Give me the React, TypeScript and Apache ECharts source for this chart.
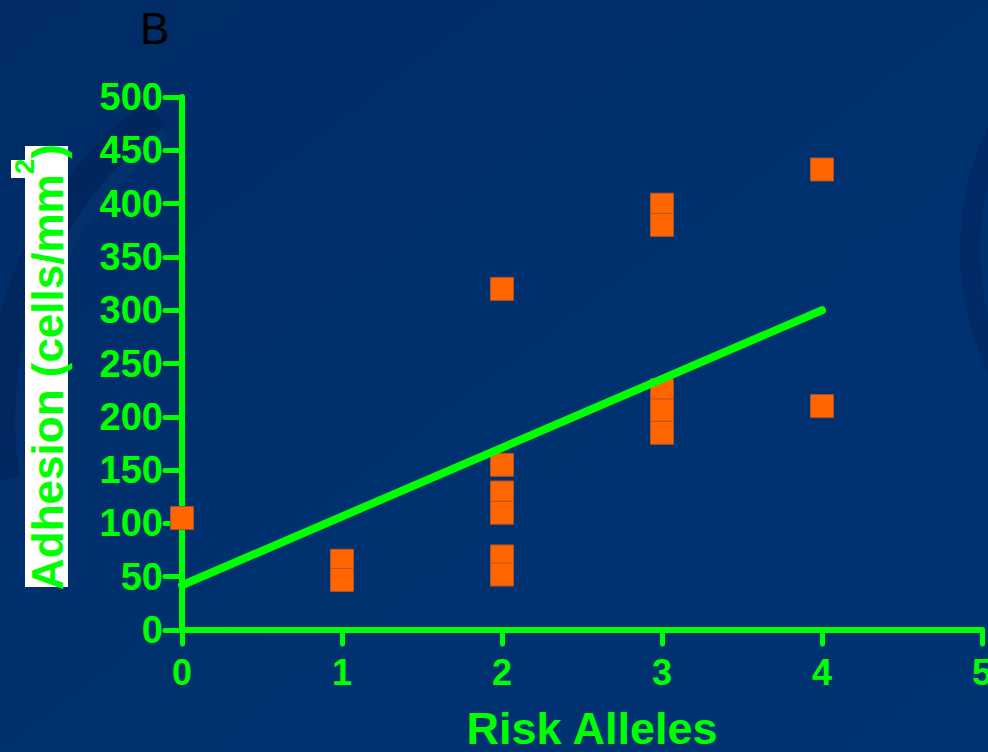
import React, { useEffect, useRef } from "react";
import * as echarts from "echarts";

const xTicks = [0, 1, 2, 3, 4, 5];
const yTicks = [0, 50, 100, 150, 200, 250, 300, 350, 400, 450, 500];
const riskAlleles = [0, 1, 1, 2, 2, 2, 2, 2, 2, 3, 3, 3, 3, 3, 4, 4];
const adhesion = [105, 65, 47, 320, 155, 129, 110, 69, 52, 399, 380, 225, 206, 185, 432, 210];
const fitX = [0, 4];
const fitY = [42, 300];

const GREEN = "#00ff00";
const FONT = "'Liberation Sans', Arial, sans-serif";

export default function App() {
  const ref = useRef<HTMLDivElement>(null);
  useEffect(() => {
    document.body.style.margin = "0";
    const chart = echarts.init(ref.current!, null, { renderer: "svg" });
    const points = riskAlleles.map((x, i) => [x, adhesion[i]]);
    const fit = fitX.map((x, i) => [x, fitY[i]]);
    chart.setOption({
      animation: false,
      backgroundColor: "#00306c",
      graphic: [
        {
          type: "rect",
          z: -10,
          silent: true,
          shape: { x: 0, y: 0, width: 988, height: 752 },
          style: {
            fill: new echarts.graphic.LinearGradient(0, 0, 1, 1, [
              { offset: 0, color: "#002b66" },
              { offset: 0.5, color: "#00316f" },
              { offset: 1, color: "#003373" },
            ]),
          },
        },
        {
          type: "arc",
          z: -9,
          silent: true,
          shape: { cx: 380, cy: 420, r: 380, startAngle: Math.PI * 0.95, endAngle: Math.PI * 1.3 },
          style: { stroke: "rgba(0,20,60,0.25)", lineWidth: 30, fill: "none" },
        },
        {
          type: "arc",
          z: -9,
          silent: true,
          shape: { cx: 360, cy: 400, r: 330, startAngle: Math.PI * 1.0, endAngle: Math.PI * 1.3 },
          style: { stroke: "rgba(40,80,140,0.10)", lineWidth: 12, fill: "none" },
        },
        {
          type: "arc",
          z: -9,
          silent: true,
          shape: { cx: 1250, cy: 250, r: 280, startAngle: Math.PI * 0.85, endAngle: Math.PI * 1.15 },
          style: { stroke: "rgba(0,20,70,0.22)", lineWidth: 20, fill: "none" },
        },
        {
          type: "text",
          left: 140,
          top: 6,
          style: { text: "B", fill: "#000", font: `normal 44px ${FONT}` },
        },
        {
          type: "rect",
          z: 5,
          shape: { x: 25, y: 146, width: 43, height: 441 },
          style: { fill: "#ffffff" },
        },
        {
          type: "rect",
          z: 5,
          shape: { x: 11, y: 160, width: 15, height: 18 },
          style: { fill: "#ffffff" },
        },
        {
          type: "text",
          z: 6,
          x: 39,
          y: 367,
          rotation: Math.PI / 2,
          style: {
            text: "{a|Adhesion (cells/mm}{s|2}{a|)}",
            align: "center",
            verticalAlign: "middle",
            rich: {
              a: { fontSize: 44, fontWeight: "bold", fontFamily: FONT, fill: GREEN, color: GREEN, lineHeight: 44, height: 44, verticalAlign: "bottom" },
              s: { fontSize: 28, fontWeight: "bold", fontFamily: FONT, fill: GREEN, color: GREEN, lineHeight: 60, height: 30, verticalAlign: "top" },
            },
          },
        },
        {
          type: "text",
          z: 6,
          x: 592,
          y: 728,
          style: {
            text: "Risk Alleles",
            align: "center",
            verticalAlign: "middle",
            fill: GREEN,
            font: `bold 45px ${FONT}`,
          },
        },
      ],
      grid: { left: 182, width: 800, top: 97, height: 533, containLabel: false, outerBoundsMode: "none" },
      xAxis: {
        type: "value",
        min: xTicks[0],
        max: xTicks[xTicks.length - 1],
        interval: 1,
        splitLine: { show: false },
        axisLine: { show: true, onZero: false, lineStyle: { color: GREEN, width: 6, cap: "round" } },
        axisTick: { show: true, length: 14, lineStyle: { color: GREEN, width: 5, cap: "round" } },
        axisLabel: {
          color: GREEN,
          fontSize: 36,
          fontWeight: "bold",
          fontFamily: FONT,
          margin: 24,
          showMaxLabel: true,
          hideOverlap: false,
          formatter: (v: number) => (xTicks.includes(v) ? String(v) : ""),
        },
      },
      yAxis: {
        type: "value",
        min: yTicks[0],
        max: yTicks[yTicks.length - 1],
        interval: 50,
        splitLine: { show: false },
        axisLine: { show: true, onZero: false, lineStyle: { color: GREEN, width: 6, cap: "round" } },
        axisTick: { show: true, length: 17, lineStyle: { color: GREEN, width: 5, cap: "round" } },
        axisLabel: {
          color: GREEN,
          fontSize: 38,
          fontWeight: "bold",
          fontFamily: FONT,
          margin: 19,
          formatter: (v: number) => (yTicks.includes(v) ? String(v) : ""),
        },
      },
      series: [
        {
          type: "scatter",
          data: points,
          symbol: "rect",
          symbolSize: 23,
          z: 3,
          itemStyle: { color: "#ff6600", borderColor: "#b0502a", borderWidth: 1, opacity: 1 },
        },
        {
          type: "line",
          data: fit,
          showSymbol: false,
          symbol: "none",
          z: 4,
          lineStyle: { color: GREEN, width: 8, cap: "round" },
        },
      ],
    });
    return () => chart.dispose();
  }, []);
  return (
    <div
      ref={ref}
      style={{ position: "absolute", left: 0, top: 0, width: 988, height: 752 }}
    />
  );
}
